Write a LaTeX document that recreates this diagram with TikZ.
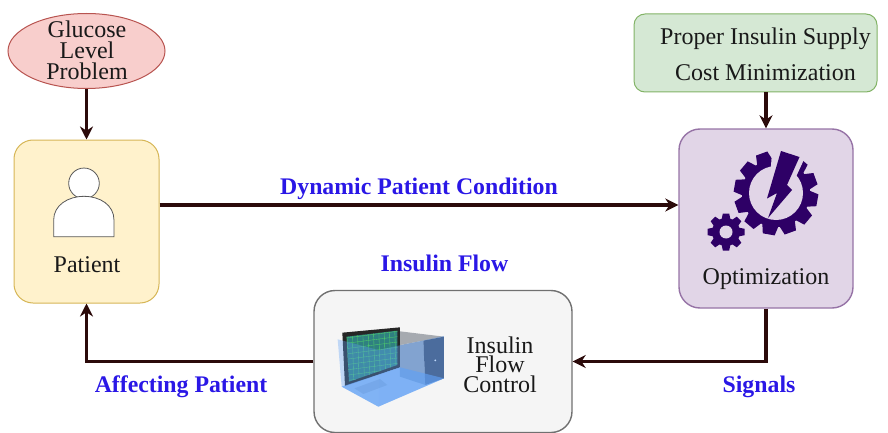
\documentclass[tikz,border=0pt]{standalone}
\usepackage{fontspec}
\setmainfont{Liberation Serif}
\usetikzlibrary{shapes.geometric,arrows.meta}
\definecolor{gearc}{HTML}{2E0066}
\definecolor{linkc}{HTML}{2B0A0A}
\definecolor{bluet}{HTML}{2A17E6}
\definecolor{purp}{HTML}{E1D5E7}
\definecolor{redd}{HTML}{B85450}
\definecolor{redf}{HTML}{F8CECC}
\definecolor{yeld}{HTML}{D6B656}
\definecolor{yelf}{HTML}{FFF2CC}
\definecolor{grnd}{HTML}{82B366}
\definecolor{grnf}{HTML}{D5E8D4}
\definecolor{purd}{HTML}{9673A6}
\definecolor{gryd}{HTML}{707070}
\definecolor{gryf}{HTML}{F5F5F5}
\definecolor{towtop}{HTML}{A6AAB0}
\definecolor{towside}{HTML}{9AA6B8}
\definecolor{towfront}{HTML}{3E4A63}
\definecolor{scrn}{HTML}{2F8080}
\definecolor{grid}{HTML}{4FD06A}
\definecolor{roomc}{HTML}{5FA0F5}
\tikzset{
 boxn/.style={draw,rounded corners=#1,inner sep=0pt,line width=1pt},
 link/.style={draw=linkc,line width=3.2pt,-{Stealth[length=13pt,width=13pt]}},
 lbl/.style={font=\fontsize{24}{21}\selectfont,text=black!90,inner sep=0pt,align=center},
 bluelbl/.style={font=\fontsize{23.8}{24}\selectfont\bfseries,text=bluet,inner sep=0pt},
}
\begin{document}
\begin{tikzpicture}[x=1pt,y=-1pt]
\useasboundingbox (0,0) rectangle (888,433);
% shapes
\node (glu) [ellipse,draw=redd,fill=redf,line width=1pt,minimum width=157pt,minimum height=75pt,inner sep=0pt] at (86.5,51) {};
\node (pat) [boxn=19pt,draw=yeld,fill=yelf,minimum width=145pt,minimum height=163pt] at (86.5,221.5) {};
\node (sup) [boxn=11pt,draw=grnd,fill=grnf,minimum width=243pt,minimum height=78pt] at (755.5,53) {};
\node (opt) [boxn=21pt,draw=purd,fill=purp,minimum width=174pt,minimum height=179pt,line width=1.4pt] at (766,218.5) {};
\node (ctl) [boxn=21pt,draw=gryd,fill=gryf,minimum width=258pt,minimum height=142pt,line width=1.4pt] at (443,361.5) {};
% connectors
\draw[link] (glu.south) -- (pat.north);
\draw[link] (sup.south -| opt.north) -- (opt.north);
\draw[link] ([yshift=16.5pt]pat.east) -- ([yshift=13.5pt]opt.west);
\draw[link] (opt.south) |- (ctl.east);
\draw[link] (ctl.west) -| (pat.south);
% texts
\node[lbl] (t1) at (87,50) {Glucose\\Level\\Problem};
\node[lbl] (t2) at (87,264.5) {Patient};
\node[lbl] (t3) at (765.5,38.5) {Proper Insulin Supply};
\node[lbl] (t4) at (765.5,73) {Cost Minimization};
\node[lbl] (t5) at (766,279.5) {Optimization};
\node[lbl,font=\fontsize{24}{19.5}\selectfont] (t6) at (500,364.5) {Insulin\\Flow\\Control};
\node[bluelbl] (b1) at (419,188.5) {Dynamic Patient Condition};
\node[bluelbl] (b2) at (444.5,263.5) {Insulin Flow};
\node[bluelbl] (b3) at (181,387) {Affecting Patient};
\node[bluelbl] (b4) at (759,386.5) {Signals};
% person icon
\begin{scope}[shift={(0,130)},x=0.3333pt,y=-0.3333pt]
\draw[fill=white,draw=black!65,line width=0.8pt] (252,160) circle [radius=15.3pt];
\draw[fill=white,draw=black!65,line width=0.8pt] (161,320) -- (161,270) .. controls (161,225) and (205,199) .. (252,199) .. controls (300,199) and (342,225) .. (342,270) -- (342,320) -- cycle;
\end{scope}
% large gear
\begin{scope}[shift={(776,193)}]
\foreach \a in {0,30,...,330}{
 \fill[gearc,rotate=\a+20] (-8.5,-31) -- (-6,-42) -- (6,-42) -- (8.5,-31) -- cycle;
}
\fill[gearc] (0,0) circle [radius=34pt];
\fill[purp] (0,0) circle [radius=27pt];
\end{scope}
% bolt
\fill[purp] (773,140) -- (808,150) -- (796,176) -- (770,178) -- cycle;
\draw[purp,line width=3pt] (777,150) -- (764,199);
\draw[purp,line width=3pt] (803,158) -- (791,184);
\fill[gearc] (781,151) -- (799.5,157) -- (787,185) -- (792,190) -- (768,218) -- (777,193) -- (767,198.5) -- cycle;
% small gear
\begin{scope}[shift={(726,232)}]
\foreach \a in {0,45,...,315}{
 \fill[gearc,rotate=\a] (-4.5,-12) -- (-3.2,-18.5) -- (3.2,-18.5) -- (4.5,-12) -- cycle;
}
\fill[gearc] (0,0) circle [radius=14pt];
\fill[purp] (0,0) circle [radius=6.5pt];
\end{scope}
% computer icon
\begin{scope}[shift={(300,280)},x=0.3333pt,y=-0.3333pt]
\fill[towtop] (300,154) -- (432,170) -- (370,182) -- (300,195) -- cycle;
\fill[towside] (300,195) -- (370,182) -- (376,315) -- (300,290) -- cycle;
\fill[towfront] (370,182) -- (432,170) -- (432,295) -- (376,315) -- cycle;
\fill[white] (406,241) circle [radius=1pt];
\fill[black!85] (127,158) -- (300,142) -- (300,262) -- (135,318) -- cycle;
\fill[scrn] (140,170) -- (292,152) -- (292,255) -- (147,305) -- cycle;
\begin{scope}
\clip (140,170) -- (292,152) -- (292,255) -- (147,305) -- cycle;
\foreach \x in {140,156,...,300} \draw[grid,line width=0.35pt] (\x,140) -- (\x+6,320);
\foreach \y in {175,191,...,320} \draw[grid,line width=0.35pt] (130,\y) -- (300,\y-22);
\end{scope}
\fill[gray!45] (163,325) -- (240,297) -- (262,315) -- (190,342) -- cycle;
\fill[roomc,opacity=0.35] (113,178) -- (235,210) -- (235,380) -- (125,320) -- cycle;
\fill[roomc,opacity=0.40] (235,210) -- (432,168) -- (432,295) -- (235,380) -- cycle;
\fill[roomc,opacity=0.65] (125,320) -- (235,380) -- (432,295) -- (300,262) -- cycle;
\end{scope}
\end{tikzpicture}
\end{document}
